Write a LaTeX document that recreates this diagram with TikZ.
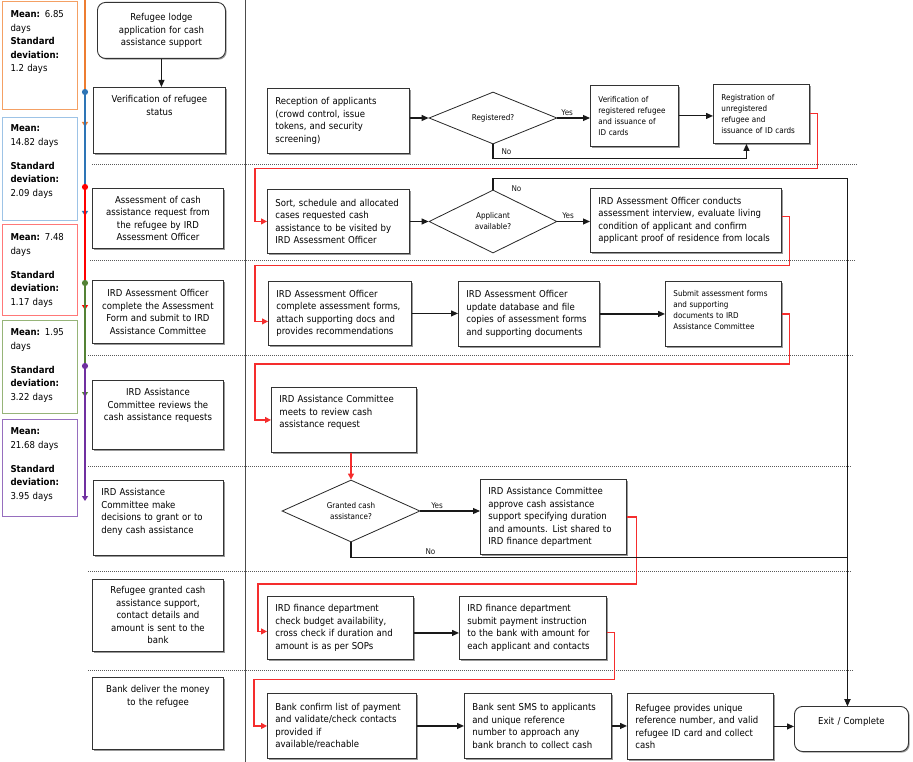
\documentclass[tikz,border=0pt]{standalone}
\usepackage{fontspec}
\setmainfont{DejaVu Sans Condensed}
\usetikzlibrary{arrows.meta,shapes.geometric,shadows}

\definecolor{lineorange}{RGB}{237,125,49}
\definecolor{lineblue}{RGB}{46,117,182}
\definecolor{linered}{RGB}{255,0,0}
\definecolor{linegreen}{RGB}{84,130,53}
\definecolor{linepurple}{RGB}{112,48,160}
\definecolor{boxorange}{RGB}{244,160,100}
\definecolor{boxblue}{RGB}{157,195,230}
\definecolor{boxred}{RGB}{255,120,120}
\definecolor{boxgreen}{RGB}{150,180,120}
\definecolor{boxpurple}{RGB}{150,110,190}
\definecolor{flowred}{RGB}{245,45,45}

\newcommand{\flowfont}{\fontsize{9.5}{12.5}\selectfont}
\newcommand{\notefont}{\fontsize{8}{11}\selectfont}
\newcommand{\statfont}{\fontsize{9.5}{13.5}\selectfont}

\begin{document}
\begin{tikzpicture}
    [
    x=1pt, y=-1pt,
    box/.style={
        rectangle,
        draw=black!80,
        line width=0.9pt,
        fill=white,
        drop shadow={shadow xshift=1.2pt, shadow yshift=-1.2pt, fill=black!40, opacity=1},
        anchor=north west,
        inner xsep=8pt,
        inner ysep=0pt,
        align=left,
        font=\flowfont
    },
    cbox/.style={box, align=center},
    note/.style={box, font=\notefont},
    terminal/.style={cbox, rounded corners=8pt},
    decision/.style={
        diamond,
        draw=black!85,
        line width=0.8pt,
        fill=white,
        aspect=2.5,
        inner sep=0pt,
        align=center,
        font=\notefont
    },
    stat/.style={
        rectangle,
        line width=1.1pt,
        anchor=north west,
        inner xsep=8pt,
        inner ysep=0pt,
        text width=59pt,
        align=left,
        font=\statfont
    },
    lbl/.style={font=\notefont, inner sep=2pt},
    arrow/.style={-{Triangle[length=7pt,width=6pt]}, line width=1.1pt, black!90},
    redarrow/.style={-{Triangle[length=6pt,width=6pt]}, line width=1.1pt, flowred},
    period/.style={{Circle[length=6pt]}-{Triangle[length=5pt,width=6pt]}, line width=2pt},
    lane/.style={black!65, line width=0.9pt, dash pattern=on 1pt off 1pt}
    ]

    \useasboundingbox (0,0) rectangle (913,762);

% Lanes
    \draw[lane] (92,164) -- (857,164);
    \draw[lane] (90,260) -- (855,260);
    \draw[lane] (88,355) -- (853,355);
    \draw[lane] (88,466) -- (852,466);
    \draw[lane] (88,571) -- (852,571);
    \draw[lane] (88,670) -- (853,670);
    \draw[black!70, line width=1pt] (245,0) -- (245,762);

% Durations
    \node[stat, draw=boxorange, minimum height=108pt, text depth=82.2pt] (s1) at (2,1)
        {\textbf{Mean:} 6.85\\days\\\textbf{Standard}\\\textbf{deviation:}\\1.2 days};
    \node[stat, draw=boxblue, minimum height=103pt, text depth=81.2pt] (s2) at (2,117)
        {\textbf{Mean:}\\14.82 days\\[10.5pt]\textbf{Standard}\\\textbf{deviation:}\\2.09 days};
    \node[stat, draw=boxred, minimum height=91pt, text depth=65.2pt] (s3) at (2,224)
        {\textbf{Mean:} 7.48\\days\\[10.5pt]\textbf{Standard}\\\textbf{deviation:}\\1.17 days};
    \node[stat, draw=boxgreen, minimum height=93pt, text depth=69.2pt] (s4) at (2,320)
        {\textbf{Mean:} 1.95\\days\\[10.5pt]\textbf{Standard}\\\textbf{deviation:}\\3.22 days};
    \node[stat, draw=boxpurple, minimum height=97pt, text depth=73.2pt] (s5) at (2,419)
        {\textbf{Mean:}\\21.68 days\\[10.5pt]\textbf{Standard}\\\textbf{deviation:}\\3.95 days};

% Time line
    \coordinate (orange1) at (85,0);
    \coordinate (orange2) at (85,127);
    \coordinate (blue1) at (85,89);
    \coordinate (blue2) at (85,216);
    \coordinate (red1) at (85,184);
    \coordinate (red2) at (85,310);
    \coordinate (green1) at (85,280);
    \coordinate (green2) at (85,397);
    \coordinate (purple1) at (85,363);
    \coordinate (purple2) at (85,501);

    \draw[period, lineorange, -{Triangle[length=5pt,width=6pt]}] (orange1) -- (orange2);
    \draw[period, lineblue] (blue1) -- (blue2);
    \draw[period, linered] (red1) -- (red2);
    \draw[period, linegreen] (green1) -- (green2);
    \draw[period, linepurple] (purple1) -- (purple2);

% Summary steps
    \node[terminal, text width=112pt, minimum height=56pt] (lodge) at (97,2)
        {Refugee lodge\\application for cash\\assistance support};
    \node[cbox, text width=116pt, minimum height=66pt, text depth=42.2pt] (verify) at (93,87)
        {Verification of refugee\\status};
    \node[cbox, text width=115pt, minimum height=60pt] (assess) at (92,188)
        {Assessment of cash\\assistance request from\\the refugee by IRD\\Assessment Officer};
    \node[cbox, text width=115pt, minimum height=63pt] (complete) at (92,280)
        {IRD Assessment Officer\\complete the Assessment\\Form and submit to IRD\\Assistance Committee};
    \node[cbox, text width=115pt, minimum height=69pt, text depth=45.2pt] (reviews) at (92,380)
        {IRD Assistance\\Committee reviews the\\cash assistance requests};
    \node[box, text width=114pt, minimum height=75pt, text depth=51.2pt] (decide) at (93,480)
        {IRD Assistance\\Committee make\\decisions to grant or to\\deny cash assistance};
    \node[cbox, text width=115pt, minimum height=72pt] (granted) at (92,579)
        {Refugee granted cash\\assistance support,\\contact details and\\amount is sent to the\\bank};
    \node[cbox, text width=115pt, minimum height=72pt, text depth=48.2pt] (deliver) at (92,677)
        {Bank deliver the money\\to the refugee};

    \draw[arrow] (lodge.south) -- (lodge.south |- verify.north);

% Registration
    \node[box, text width=126pt, minimum height=65pt] (recep) at (267,88)
        {Reception of applicants\\(crowd control, issue\\tokens, and security\\screening)};
    \node[decision, minimum width=128pt, minimum height=52pt] (regq) at (493,118) {Registered?};
    \node[note, text width=72pt, minimum height=61pt] (verreg) at (590,85)
        {Verification of\\registered refugee\\and issuance of\\ID cards};
    \node[note, text width=80pt, minimum height=59pt] (register) at (713,84)
        {Registration of\\unregistered\\refugee and\\issuance of ID cards};

    \draw[arrow] (recep.east |- regq.west) -- (regq.west);
    \draw[arrow] (regq.east) -- node[lbl, above, pos=0.3] {Yes} (regq.east -| verreg.west);
    \draw[arrow] (verreg.east) -- (verreg.east -| register.west);
    \draw[arrow] (regq.south) -- node[lbl, right, xshift=6pt] {No} ++(0,14)
        -| ([xshift=-15pt]register.south);

% Assessment visit
    \node[box, text width=126pt, minimum height=64pt] (sort) at (267,189)
        {Sort, schedule and allocated\\cases requested cash\\assistance to be visited by\\IRD Assessment Officer};
    \node[decision, minimum width=128pt, minimum height=63pt] (appq) at (493,221.5) {Applicant\\available?};
    \node[box, text width=175pt, minimum height=64pt] (interview) at (590,188)
        {IRD Assessment Officer conducts\\assessment interview, evaluate living\\condition of applicant and confirm\\applicant proof of residence from locals};

    \draw[redarrow] (register.east) -- ++(8,0) -- ++(0,55)
        -| ([xshift=-12pt]sort.west) -- (sort.west);
    \draw[arrow] (sort.east |- appq.west) -- (appq.west);
    \draw[arrow] (appq.east) -- node[lbl, above, pos=0.33] {Yes} (appq.east -| interview.west);

% Assessment forms
    \node[box, text width=127pt, minimum height=64pt] (forms) at (268,281)
        {IRD Assessment Officer\\complete assessment forms,\\attach supporting docs and\\provides recommendations};
    \node[box, text width=125pt, minimum height=65pt] (update) at (458,281)
        {IRD Assessment Officer\\update database and file\\copies of assessment forms\\and supporting documents};
    \node[note, text width=100pt, minimum height=65pt, text depth=40pt] (submit) at (665,281)
        {Submit assessment forms\\and supporting\\documents to IRD\\Assistance Committee};

    \draw[redarrow] ([yshift=4pt]interview.east) -- ++(8,0) -- ++(0,49)
        -| ([xshift=-13pt,yshift=-8pt]forms.west) -- ([yshift=-8pt]forms.west);
    \draw[arrow] (forms.east) -- (forms.east -| update.west);
    \draw[arrow] (update.east) -- (update.east -| submit.west);

% Committee review
    \node[box, text width=129pt, minimum height=65pt, text depth=41.2pt] (meets) at (271,387)
        {IRD Assistance Committee\\meets to review cash\\assistance request};

    \draw[redarrow] (submit.east) -- ++(8,0) -- ++(0,50)
        -| ([xshift=-16pt]meets.west) -- (meets.west);

% Committee decision
    \node[decision, minimum width=138pt, minimum height=62pt] (grantq) at (351,511) {Granted cash\\assistance?};
    \node[box, text width=130pt, minimum height=75pt] (approve) at (480,479)
        {IRD Assistance Committee\\approve cash assistance\\support specifying duration\\and amounts. List shared to\\IRD finance department};

    \draw[redarrow] (grantq.north |- meets.south) -- (grantq.north);
    \draw[arrow] (grantq.east) -- node[lbl, above, pos=0.28] {Yes} (grantq.east -| approve.west);

% Finance department
    \node[box, text width=130pt, minimum height=63pt] (budget) at (267,596)
        {IRD finance department\\check budget availability,\\cross check if duration and\\amount is as per SOPs};
    \node[box, text width=131pt, minimum height=63pt] (payment) at (459,596)
        {IRD finance department\\submit payment instruction\\to the bank with amount for\\each applicant and contacts};

    \draw[redarrow] (approve.east) -- ++(10,0) -- ++(0,67)
        -| ([xshift=-9pt,yshift=-3.5pt]budget.west) -- ([yshift=-3.5pt]budget.west);
    \draw[arrow] ([yshift=-5pt]budget.east) -- ([yshift=-5pt]budget.east -| payment.west);

% Bank
    \node[box, text width=133pt, minimum height=65pt] (confirm) at (267,693)
        {Bank confirm list of payment\\and validate/check contacts\\provided if\\available/reachable};
    \node[box, text width=131pt, minimum height=65pt] (sms) at (464,693)
        {Bank sent SMS to applicants\\and unique reference\\number to approach any\\bank branch to collect cash};
    \node[box, text width=130pt, minimum height=66pt] (collect) at (627,693)
        {Refugee provides unique\\reference number, and valid\\refugee ID card and collect\\cash};
    \node[terminal, text width=98pt, minimum height=45pt, text depth=15.2pt] (exit) at (794,706)
        {Exit / Complete};

    \draw[redarrow] ([yshift=-4.5pt]payment.east) -- ++(8,0) -- ++(0,47)
        -| ([xshift=-13pt]confirm.west) -- (confirm.west);
    \draw[arrow] (confirm.east) -- (confirm.east -| sms.west);
    \draw[arrow] (sms.east) -- (sms.east -| collect.west);
    \draw[arrow] (collect.east) -- (collect.east -| exit.west);

% No branches to exit
    \draw[arrow] (appq.north) -- node[lbl, right, xshift=16pt, pos=0.1] {No} ++(0,-11)
        -| ([xshift=-4pt]exit.north);
    \draw[arrow] (grantq.south) -- ++(0,15)
        -| node[lbl, above, pos=0.08] {No} ([xshift=-4pt]exit.north);

\end{tikzpicture}
\end{document}
